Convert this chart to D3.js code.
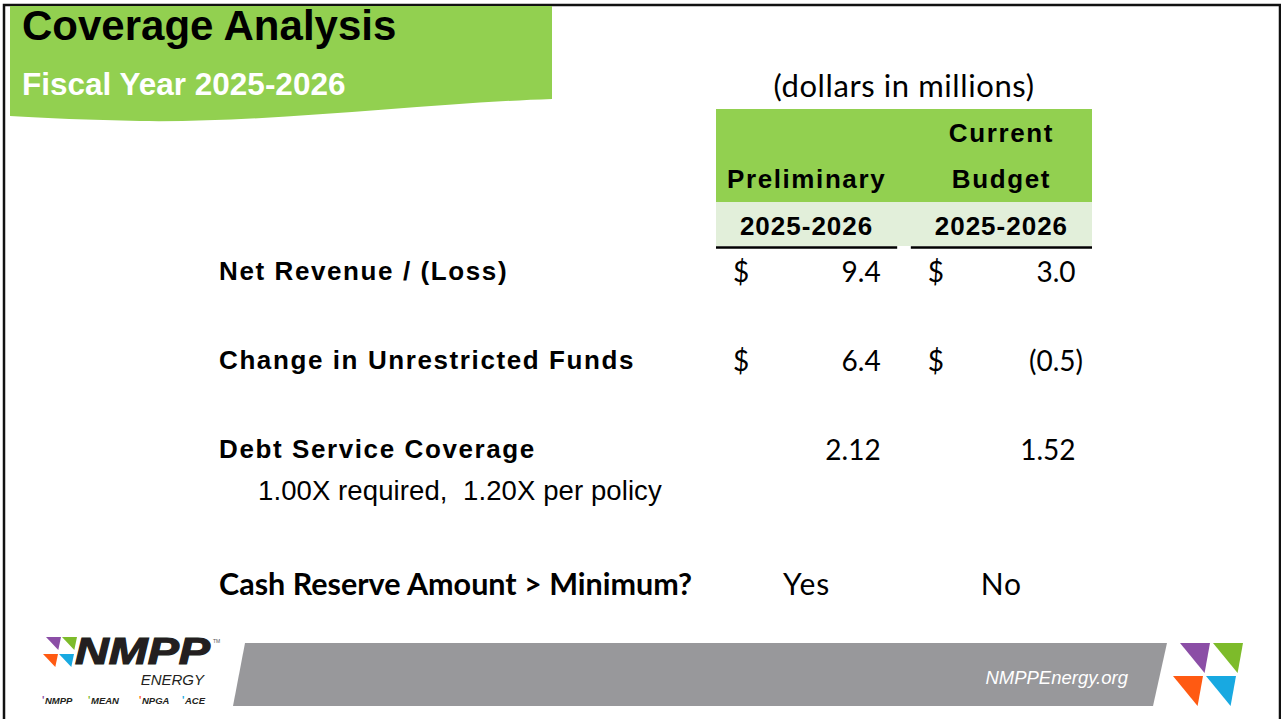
<!DOCTYPE html>
<html><head><meta charset="utf-8">
<script src="https://cdn.jsdelivr.net/npm/d3@7"></script>
<style>body{margin:0;background:#fff;} svg{display:block;} text{white-space:pre;}</style>
</head><body>
<svg id="c" width="1281" height="719"></svg>
<script>
// ---------- data ----------
const title = "Coverage Analysis";
const subtitle = "Fiscal Year 2025-2026";
const unitNote = "(dollars in millions)";
const columns = ["Preliminary", "Current Budget"];
const columnHeadLines = [["", "Preliminary"], ["Current", "Budget"]];
const columnYears = ["2025-2026", "2025-2026"];
const rowLabels = ["Net Revenue / (Loss)", "Change in Unrestricted Funds", "Debt Service Coverage", "Cash Reserve Amount > Minimum?"];
const rowNotes = ["", "", "1.00X required,  1.20X per policy", ""];
const rowKinds = ["currency", "currency", "ratio", "flag"];
const preliminaryValues = [9.4, 6.4, 2.12, "Yes"];
const currentBudgetValues = [3.0, -0.5, 1.52, "No"];
const footerUrl = "NMPPEnergy.org";
const memberBrands = ["NMPP", "MEAN", "NPGA", "ACE"];

// ---------- styles ----------
const ARIAL = "'Liberation Sans', Arial, sans-serif";
const CALIBRI = "Lato, 'Open Sans', sans-serif";
const GREEN = "#92D050", LIGHT = "#E2EFDA", GRAY = "#98989B";
const BRAND = {purple:"#8B4EA6", green:"#7DBB2A", orange:"#FF5A12", blue:"#18A9E1"};

const svg = d3.select("#c");

// slide frame
svg.append("path").attr("d","M4,719 V5 H1280 V719").attr("fill","none")
  .attr("stroke","#111").attr("stroke-width",2.5);

// title banner
svg.append("path")
  .attr("d","M10,6 H552 V99 C430,103 270,123 140,121 C90,120 45,118 10,116 Z")
  .attr("fill",GREEN);
svg.append("text").attr("x",22).attr("y",40).text(title)
  .attr("font-family",ARIAL).attr("font-weight","bold").attr("font-size",42).attr("fill","#000");
svg.append("text").attr("x",22).attr("y",95).text(subtitle)
  .attr("font-family",ARIAL).attr("font-weight","bold").attr("font-size",31.5).attr("fill","#fff");

// ---------- table scales ----------
const x = d3.scaleBand().domain(columns).range([716, 1092]).paddingInner(0.07);
const slots = []; { let s = 0; rowLabels.forEach((r,i)=>{ slots.push(s); s += 1 + (rowNotes[i] ? 0.53 : 0); }); }
const y = d3.scaleLinear().domain([0,1]).range([280, 369]);

// unit note
svg.append("text").attr("x",(x.range()[0]+x.range()[1])/2).attr("y",97).attr("text-anchor","middle")
  .text(unitNote).attr("font-family",CALIBRI).attr("font-size",31).attr("letter-spacing",0.6).attr("fill","#000");

// header backgrounds
svg.append("rect").attr("x",x.range()[0]).attr("y",109).attr("width",x.range()[1]-x.range()[0]).attr("height",93).attr("fill",GREEN);
svg.append("rect").attr("x",x.range()[0]).attr("y",202).attr("height",44).attr("width",x.range()[1]-x.range()[0]).attr("fill",LIGHT);

const head = svg.append("g").attr("font-family",ARIAL).attr("font-weight","bold").attr("font-size",26)
  .attr("text-anchor","middle").attr("fill","#000");
columns.forEach((c,i)=>{
  const cx = x(c) + x.bandwidth()/2;
  columnHeadLines[i].forEach((ln,j)=>{
    if (ln) head.append("text").attr("x",cx).attr("y",[142,188][j]).attr("letter-spacing",1.6).text(ln);
  });
  head.append("text").attr("x",cx).attr("y",235).attr("letter-spacing",1).text(columnYears[i]);
  svg.append("line").attr("x1",x(c)).attr("x2",x(c)+x.bandwidth()).attr("y1",247.5).attr("y2",247.5)
    .attr("stroke","#000").attr("stroke-width",2.5);
});

// row labels
rowLabels.forEach((lab,i)=>{
  const t = svg.append("text").attr("x",219).attr("y",y(slots[i])).text(lab).attr("fill","#000").attr("font-weight","bold");
  if (rowKinds[i]==="flag") t.attr("font-family",CALIBRI).attr("font-size",30.5).attr("y",y(slots[i])+1);
  else t.attr("font-family",ARIAL).attr("font-size",26).attr("letter-spacing",1.6);
  if (rowNotes[i]) svg.append("text").attr("x",258).attr("y",y(slots[i])+42).text(rowNotes[i])
    .attr("font-family",ARIAL).attr("font-size",27.5).attr("letter-spacing",0.1).attr("fill","#000");
});

// values
const fmt = {currency:d3.format(".1f"), ratio:d3.format(".2f")};
const valueSets = [preliminaryValues, currentBudgetValues];
columns.forEach((c,ci)=>{
  const x0 = x(c), x1 = x(c)+x.bandwidth();
  valueSets[ci].forEach((v,i)=>{
    const yy = y(slots[i]) + (rowKinds[i]==="flag" ? 1 : 2);
    const g = svg.append("g").attr("font-family",CALIBRI).attr("font-size",28).attr("fill","#000");
    if (rowKinds[i]==="flag") {
      g.append("text").attr("x",(x0+x1)/2).attr("y",yy).attr("text-anchor","middle")
        .attr("font-size",30).attr("letter-spacing",1).text(v);
      return;
    }
    if (rowKinds[i]==="currency") g.append("text").attr("x",x0+17).attr("y",yy).text("$");
    const t = g.append("text").attr("x",x1-9).attr("y",yy).attr("text-anchor","end");
    if (v < 0) t.text("(" + fmt[rowKinds[i]](-v) + ")");
    else { t.append("tspan").text(fmt[rowKinds[i]](v)); t.append("tspan").attr("fill-opacity",0).text(")"); }
  });
});

// ---------- footer ----------
svg.append("path").attr("d","M245,643 H1167 L1153,706 H233 Z").attr("fill",GRAY);
svg.append("text").attr("x",1128).attr("y",684).attr("text-anchor","end").text(footerUrl)
  .attr("font-family",ARIAL).attr("font-style","italic").attr("font-size",18.5).attr("fill","#fff");

// brand triangles
function tri(g, x0, y0, w, h, color){
  g.append("path").attr("d",`M${x0},${y0} L${x0+w},${y0} L${x0+w*0.82},${y0+h} Z`).attr("fill",color);
}
const rl = svg.append("g");
tri(rl,1180,643,30,30,BRAND.purple); tri(rl,1213,643,30,30,BRAND.green);
tri(rl,1173,676,30,30,BRAND.orange); tri(rl,1206,676,30,30,BRAND.blue);

const ll = svg.append("g");
tri(ll,46,637,15,13,BRAND.purple); tri(ll,62,637,15,13,BRAND.green);
tri(ll,43,654,15,13,BRAND.orange); tri(ll,59,654,15,13,BRAND.blue);
ll.append("text").attr("x",75).attr("y",664).text("NMPP").attr("font-family",ARIAL).attr("font-weight","900")
  .attr("font-style","italic").attr("font-size",37).attr("textLength",135).attr("lengthAdjust","spacingAndGlyphs")
  .attr("fill","#231F20").attr("stroke","#231F20").attr("stroke-width",1.2);
ll.append("text").attr("x",213).attr("y",643).text("TM").attr("font-family",ARIAL).attr("font-size",5).attr("fill","#555");
ll.append("text").attr("x",204).attr("y",685).attr("text-anchor","end").text("ENERGY").attr("font-family",ARIAL)
  .attr("font-style","italic").attr("font-size",15).attr("fill","#231F20");
const brandColors = [BRAND.purple, BRAND.green, BRAND.orange, BRAND.blue];
memberBrands.forEach((b,i)=>{
  const bx = [42,88,139,182][i];
  ll.append("text").attr("x",bx).attr("y",704).text("'").attr("font-family",ARIAL).attr("font-size",10)
    .attr("font-weight","bold").attr("fill",brandColors[i]);
  ll.append("text").attr("x",bx+3).attr("y",704).text(b).attr("font-family",ARIAL).attr("font-weight","bold")
    .attr("font-style","italic").attr("font-size",9.5).attr("fill","#231F20");
});
</script>
</body></html>
